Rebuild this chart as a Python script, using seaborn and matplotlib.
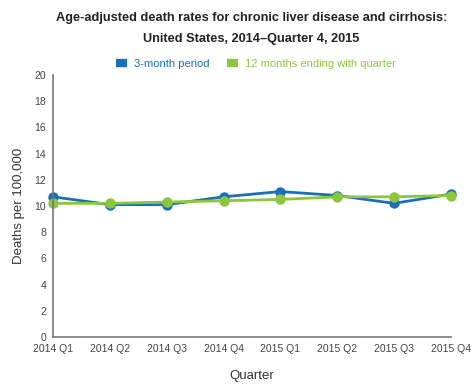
import matplotlib
matplotlib.use("Agg")
import matplotlib.pyplot as plt
import seaborn as sns
import pandas as pd
from matplotlib.lines import Line2D

quarters = ["2014 Q1", "2014 Q2", "2014 Q3", "2014 Q4",
            "2015 Q1", "2015 Q2", "2015 Q3", "2015 Q4"]
three_month = [10.7, 10.1, 10.1, 10.7, 11.1, 10.8, 10.2, 10.9]
twelve_month = [10.2, 10.2, 10.3, 10.4, 10.5, 10.7, 10.7, 10.8]
series_names = ["3-month period", "12 months ending with quarter"]
colors = ["#1a6fb8", "#8cc63f"]

df = pd.DataFrame({
    "Quarter": quarters * 2,
    "Rate": three_month + twelve_month,
    "Series": [series_names[0]] * len(quarters) + [series_names[1]] * len(quarters),
})
df["x"] = list(range(len(quarters))) * 2

sns.set_style("white")
plt.rcParams["font.family"] = ["Liberation Sans", "DejaVu Sans"]

fig = plt.figure(figsize=(4.74, 3.89), dpi=100)
ax = fig.add_axes([0.112, 0.134, 0.839, 0.673])

sns.lineplot(data=df, x="x", y="Rate", hue="Series", palette=colors,
             marker="o", markersize=7.5, markeredgewidth=0, linewidth=2,
             ax=ax, legend=False)
for ln in ax.lines:
    ln.set_clip_on(False)

ax.set_xlim(0, len(quarters) - 1)
ax.set_ylim(0, 20)
ax.set_xticks(range(len(quarters)))
ax.set_xticklabels(quarters)
ax.set_yticks(range(0, 21, 2))
ax.tick_params(axis="both", direction="out", length=4, width=1.2,
               color="#555555", labelsize=7.5, labelcolor="#444444", pad=1)
for s in ["top", "right"]:
    ax.spines[s].set_visible(False)
for s in ["left", "bottom"]:
    ax.spines[s].set_color("#777777")
    ax.spines[s].set_linewidth(1.2)
ax.set_xlabel("Quarter", fontsize=9.5, color="#333333", labelpad=12)
ax.set_ylabel("Deaths per 100,000", fontsize=9.5, color="#333333", labelpad=7)

fig.text(0.53, 0.955, "Age-adjusted death rates for chronic liver disease and cirrhosis:",
         ha="center", va="center", fontsize=9.2, fontweight="bold", color="#222222")
fig.text(0.53, 0.899, "United States, 2014\u2013Quarter 4, 2015",
         ha="center", va="center", fontsize=9.2, fontweight="bold", color="#222222")

handles = [Line2D([0], [0], color=c, linewidth=6, solid_capstyle="butt")
           for c in colors]
leg = fig.legend(handles, series_names, loc="center", bbox_to_anchor=(0.54, 0.835),
                 ncol=2, frameon=False, fontsize=8, handletextpad=0.6,
                 columnspacing=1.6, handlelength=1.0)
for t, c in zip(leg.get_texts(), colors):
    t.set_color(c)

fig.savefig("out.png", dpi=100)
